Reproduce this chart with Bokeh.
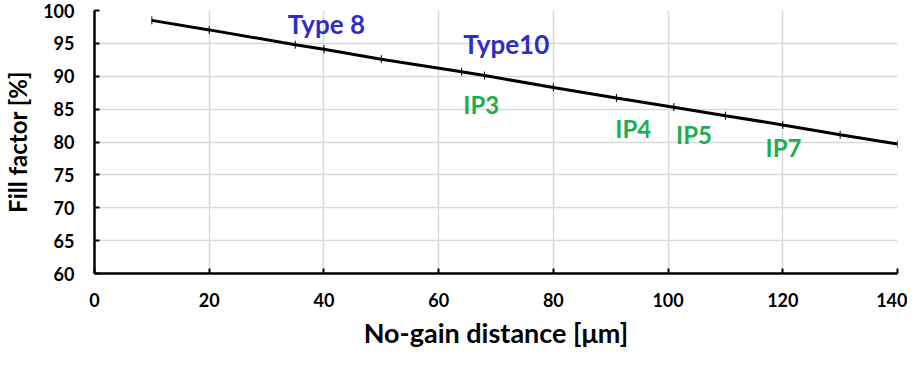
from bokeh.plotting import figure
from bokeh.models import ColumnDataSource, FixedTicker, Range1d
from bokeh.core.properties import value
from bokeh.embed import file_html
from bokeh.resources import INLINE
import math

# Data
distance = [10, 20, 35, 40, 50, 64, 68, 80, 91, 101, 110, 120, 130, 140]
fill_factor = [98.5, 97.05, 94.8, 94.1, 92.6, 90.7, 90.1, 88.3, 86.7, 85.3, 84.0, 82.6, 81.1, 79.7]

type_labels = ["Type 8", "Type10"]
type_x = [33.7, 64.3]
type_y = [97.96, 94.9]

ip_labels = ["IP3", "IP4", "IP5", "IP7"]
ip_x = [64.3, 90.8, 101.4, 117.0]
ip_y = [85.76, 82.06, 81.14, 79.16]

x_ticks = [0, 20, 40, 60, 80, 100, 120, 140]
y_ticks = [60, 65, 70, 75, 80, 85, 90, 95, 100]

x_title = "No-gain distance [\u03bcm]"
y_title = "Fill factor [%]"

FONT = "Lato"

p = figure(width=907, height=353, output_backend="svg", toolbar_location=None,
           x_range=Range1d(0, 140), y_range=Range1d(60, 100),
           min_border_left=91, min_border_right=10, min_border_top=10, min_border_bottom=80)
p.outline_line_color = None
p.background_fill_color = "white"

# grid
p.xgrid.ticker = FixedTicker(ticks=x_ticks)
p.ygrid.ticker = FixedTicker(ticks=y_ticks)
for g in (p.xgrid, p.ygrid):
    g.grid_line_color = "#d9d9d9"
    g.grid_line_width = 1.5

# axes
p.xaxis.ticker = FixedTicker(ticks=x_ticks)
p.yaxis.ticker = FixedTicker(ticks=y_ticks)
for ax in (p.xaxis, p.yaxis):
    ax.axis_line_color = "black"
    ax.axis_line_width = 2.5
    ax.major_tick_line_color = "black"
    ax.major_tick_line_width = 2
    ax.major_tick_in = 5
    ax.major_tick_out = 0
    ax.minor_tick_line_color = None
    ax.major_label_text_font = FONT
    ax.major_label_text_font_style = "bold"
    ax.major_label_text_font_size = "18px"
    ax.major_label_text_color = "black"
    ax.axis_label_text_font = FONT
    ax.axis_label_text_font_style = "bold"
    ax.axis_label_text_color = "black"
p.xaxis.major_label_standoff = 19
p.yaxis.major_label_standoff = 20
p.yaxis.axis_label = y_title
p.yaxis.axis_label_text_font_size = "24px"
p.yaxis.axis_label_standoff = 8
p.xaxis.axis_label = x_title
p.xaxis.axis_label_text_font_size = "27px"
p.xaxis.axis_label_standoff = 6

src = ColumnDataSource(dict(x=distance, y=fill_factor))
p.line("x", "y", source=src, line_color="black", line_width=3)
p.scatter("x", "y", source=src, marker="dash", angle=math.pi / 2, size=8,
          line_color="black", line_width=1)

p.text(x=type_x, y=type_y, text=type_labels, text_font=value(FONT), text_font_style="bold",
       text_font_size="26px", text_color="#2e2ec4", text_baseline="alphabetic", text_align="left")
p.text(x=ip_x, y=ip_y, text=ip_labels, text_font=value(FONT), text_font_style="bold",
       text_font_size="24px", text_color="#1fae4f", text_baseline="alphabetic", text_align="left")

open("out.html", "w").write(file_html(p, INLINE))
